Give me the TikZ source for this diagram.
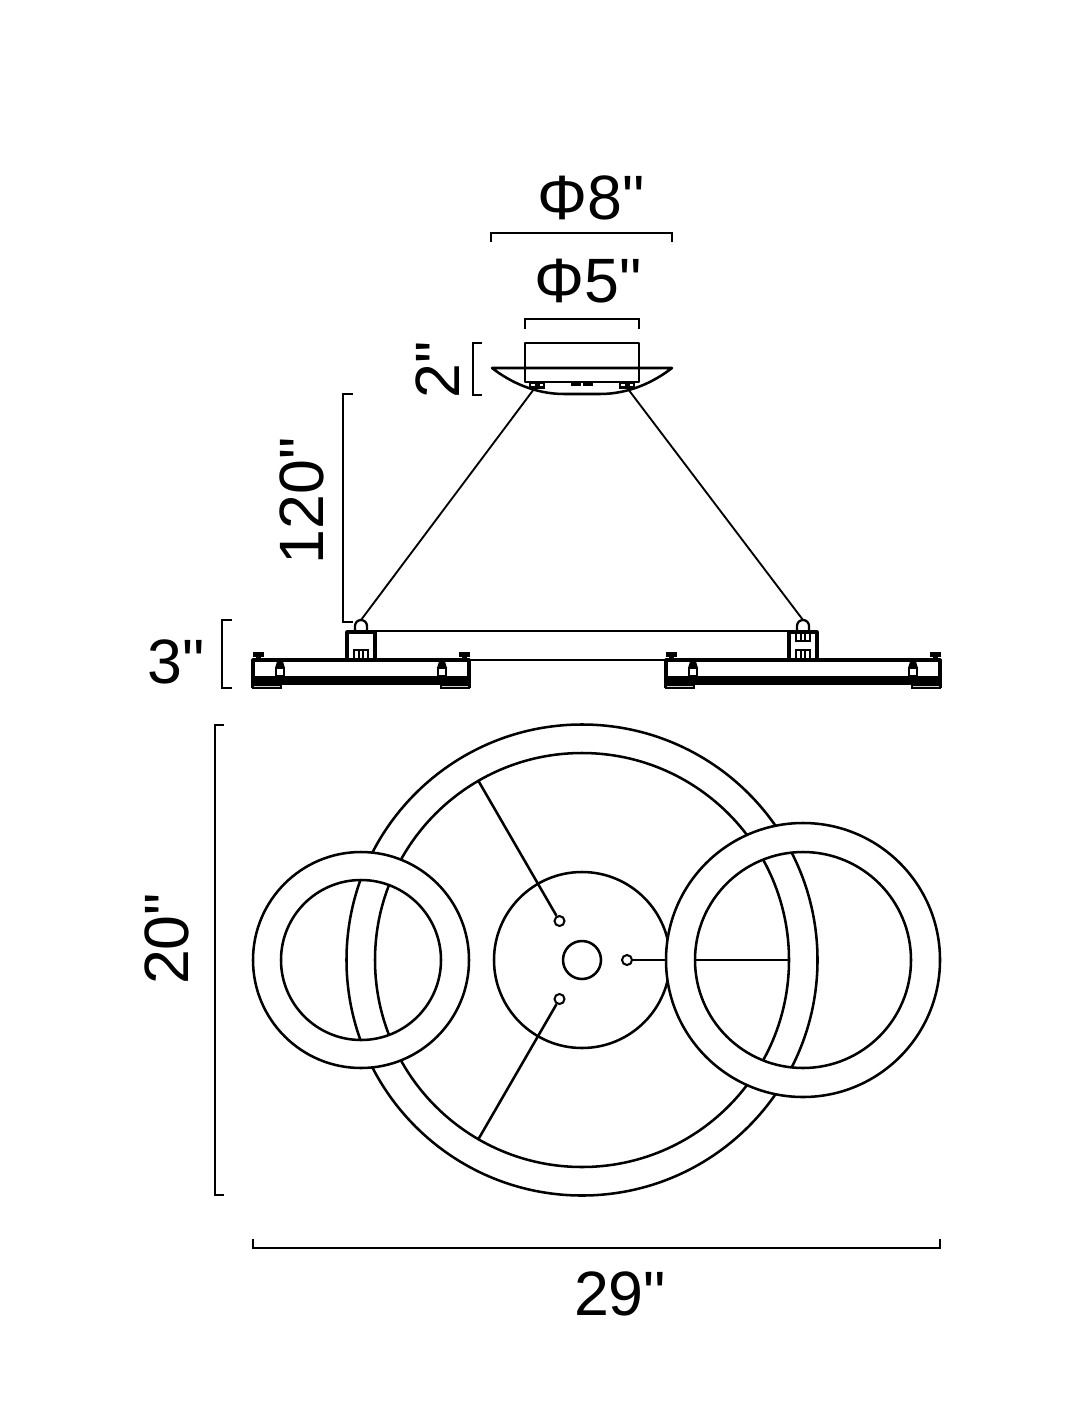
\documentclass[tikz,border=0pt]{standalone}
\usepackage{fontspec}
\newfontfamily\dimfont{Liberation Sans}

\tikzset{
    part/.style={line width=1.9pt, black, line join=round},
    side part/.style={line width=2.3pt, black, line join=round},
    thin part/.style={line width=1.4pt, black},
    dimline/.style={line width=1.2pt, black},
    dimtext/.style={inner sep=0pt, font=\dimfont\fontsize{47}{50}\selectfont},
    hole/.style={circle, draw, line width=1.5pt, fill=white, minimum size=7.5pt, inner sep=0pt},
    foot/.style={draw, line width=1.5pt, fill=gray!35}
}

\begin{document}
\begin{tikzpicture}[x=0.75pt, y=-0.75pt]
    \useasboundingbox[fill=white] (0,0) rectangle (1074,1426);

    % labels
    \node[dimtext] (phieight) at (591,198) {Φ8"};
    \node[dimtext] (phifive) at (588,281) {Φ5"};
    \node[dimtext, rotate=90] (canopyh) at (438,370) {2"};
    \node[dimtext, rotate=90] (cableh) at (302,501) {120"};
    \node[dimtext] (ringh) at (176,662) {3"};
    \node[dimtext, rotate=90] (totalh) at (167,939) {20"};
    \node[dimtext] (totalw) at (620,1294) {29"};

    % dimension lines
    \draw[dimline] (491,242) -- (491,233) -- (672,233) -- (672,242);
    \draw[dimline] (525,329) -- (525,319) -- (639,319) -- (639,329);
    \draw[dimline] (482,343) -- (473,343) -- (473,395) -- (482,395);
    \draw[dimline] (353,394) -- (343,394) -- (343,622) -- (353,622);
    \draw[dimline] (232,620) -- (222,620) -- (222,688) -- (232,688);
    \draw[dimline] (224,725) -- (215,725) -- (215,1195) -- (224,1195);
    \draw[dimline] (253,1239) -- (253,1248) -- (940,1248) -- (940,1239);

    % canopy
    \draw[part] (525,382) -- (525,343) -- (639,343) -- (639,382) -- cycle;
    \draw[part] (492,368) -- (672,368)
        .. controls (654,382) and (629,394) .. (600,394) -- (564,394)
        .. controls (535,394) and (510,382) .. (492,368) -- cycle;
    \foreach \x in {537,627} {
        \fill (\x-8,381) rectangle (\x+8,389);
        \fill[white] (\x-6,384) rectangle (\x-2,386);
        \fill[white] (\x+3,384) rectangle (\x+6,386);
    }
    \fill (571,381) rectangle (581,385.5);
    \fill (583,381) rectangle (593,385.5);

    % cables
    \coordinate (anchorl) at (534,389);
    \coordinate (anchorr) at (628,389);
    \coordinate (capl) at (361,620);
    \coordinate (capr) at (803,620);
    \draw[thin part] (anchorl) -- (capl);
    \draw[thin part] (anchorr) -- (capr);

    % centre bar
    \draw[part] (375,631) -- (789,631);
    \draw[thin part] (469,660) -- (666,660);

    % side view of the two rings
    \foreach \xa/\xb in {253/469, 666/940} {
        \draw[side part] (\xa,688) -- (\xa,660) -- (\xb,660) -- (\xb,688);
        \fill (\xa,676) rectangle (\xb,684.5);
        \draw[foot] (\xa,684.5) rectangle (\xa+28,688);
        \draw[foot] (\xb-28,684.5) rectangle (\xb,688);
        \foreach \s in {\xa+5,\xb-5} {
            \fill (\s-5.5,651.5) rectangle (\s+5.5,657);
            \fill (\s-2.5,657) rectangle (\s+2.5,661);
        }
        \foreach \s in {\xa+27,\xb-27} {
            \fill (\s-2.5,660) -- (\s+2.5,660) -- (\s+5,668) -- (\s-5,668) -- cycle;
            \draw[line width=1.7pt] (\s-4,668) rectangle (\s+4,676);
        }
    }

    % blocks and caps
    \draw[side part] (347,660) -- (347,632) -- (375,632) -- (375,660);
    \draw[side part] (789,660) -- (789,632) -- (817,632) -- (817,660);
    \foreach \x in {361,803} {
        \draw[line width=1.7pt] (\x-6,632) -- (\x-6,626) arc (180:360:6) -- (\x+6,632);
        \draw[line width=1.7pt] (\x-7,650) rectangle (\x+7,660);
        \draw[line width=1.2pt] (\x-2,650) -- (\x-2,660) (\x+2,650) -- (\x+2,660);
    }
    \draw[line width=1.2pt] (801,632) -- (801,640) (805,632) -- (805,640);
    \draw[line width=1.7pt] (796,632) -- (796,641) -- (810,641) -- (810,632);

    % plan view
    \coordinate (mainc) at (582,960);
    \coordinate (leftc) at (361,960);
    \coordinate (rightc) at (803,960);

    \draw[part] (mainc) circle (235.5);
    \draw[part] (mainc) circle (207);
    \draw[part] (mainc) circle (88);
    \draw[part] (mainc) circle (19);

    \node[hole] (holea) at (559.5,921) {};
    \node[hole] (holeb) at (559.5,999) {};
    \node[hole] (holec) at (627,960) {};
    \coordinate (rima) at (478.5,781);
    \coordinate (rimb) at (478.5,1139);
    \coordinate (rimc) at (789,960);
    \draw[part] (holea) -- (rima);
    \draw[part] (holeb) -- (rimb);
    \draw[part] (holec) -- (rimc);

    % small rings lie over the big one
    \fill[white, even odd rule] (leftc) circle (108) circle (80);
    \fill[white, even odd rule] (rightc) circle (137) circle (108);
    \draw[part] (leftc) circle (108);
    \draw[part] (leftc) circle (80);
    \draw[part] (rightc) circle (137);
    \draw[part] (rightc) circle (108);
\end{tikzpicture}
\end{document}
